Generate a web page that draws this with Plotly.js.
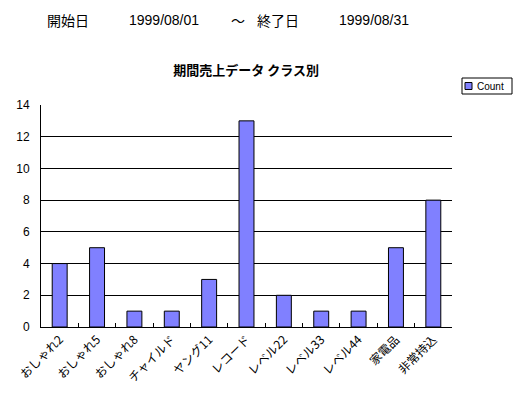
<!DOCTYPE html>
<html><head><meta charset="utf-8">
<script src="https://cdn.plot.ly/plotly-3.0.1.min.js"></script>
<style>html,body{margin:0;padding:0;background:#fff}</style>
</head><body>
<div id="chart" style="width:517px;height:397px"></div>
<script>
const categories = ["おしゃれ2","おしゃれ5","おしゃれ8","チャイルド","ヤング11","レコード","レベル22","レベル33","レベル44","家電品","非常持込"];
const counts = [4,5,1,1,3,13,2,1,1,5,8];
const seriesName = "Count";
const chartTitle = "期間売上データ クラス別";
const headerTexts = ["開始日","1999/08/01","～","終了日","1999/08/31"];
const yTicks = [0,2,4,6,8,10,12,14];

const FONT = "'Noto Sans CJK JP', 'DejaVu Sans', sans-serif";
const LATIN = "'Liberation Sans', Arial, sans-serif";
const W = 517, H = 397, ML = 41, MR = 65, MT = 105, MB = 70;
const headerX = [45,127,229,255,337];
const barColor = "#8080ff";

const trace = {
  type: "bar", x: categories, y: counts, name: seriesName,
  marker: {color: barColor, line: {color: "#000", width: 1}},
  width: 0.4, showlegend: false
};

// pixel -> paper helpers (relative to plot area)
const pw = W - ML - MR, ph = H - MT - MB;
const px = x => (x - ML) / pw;
const py = y => (H - MB - y) / ph;

const annotations = headerTexts.map((t, i) => ({
  text: t, x: px(headerX[i]), y: py(20), xref: "paper", yref: "paper",
  xanchor: "left", yanchor: "middle", showarrow: false,
  font: {size: 14, family: (i === 1 || i === 4) ? LATIN : FONT, color: "#000"}
}));
// legend label
annotations.push({text: seriesName, x: px(475), y: py(86), xref: "paper", yref: "paper",
  xanchor: "left", yanchor: "middle", showarrow: false, font: {size: 10, family: LATIN, color: "#000"}});

const shapes = [
  {type: "rect", xref: "paper", yref: "paper", x0: px(462), x1: px(512), y0: py(78), y1: py(94),
   line: {color: "#000", width: 1}, fillcolor: "#fff"},
  {type: "rect", xref: "paper", yref: "paper", x0: px(465), x1: px(472), y0: py(82.5), y1: py(89.5),
   line: {color: "#000", width: 1}, fillcolor: barColor}
];

const layout = {
  width: W, height: H,
  margin: {l: ML, r: MR, t: MT, b: MB},
  paper_bgcolor: "#fff", plot_bgcolor: "#fff",
  font: {family: FONT, color: "#000", size: 11},
  showlegend: false,
  title: {text: "<b>" + chartTitle + "</b>", x: 258 / W, xref: "paper", xanchor: "center", y: 1 - 70 / H, yanchor: "middle", font: {size: 13, family: FONT}},
  xaxis: {type: "category", tickangle: -45, ticks: "inside", ticklen: 4, tickcolor: "#000", tickson: "boundaries",
          showline: true, linecolor: "#000", linewidth: 1, showgrid: false, tickfont: {size: 12, family: FONT}, fixedrange: true},
  yaxis: {range: [0, 14], tickvals: yTicks, showline: true, linecolor: "#000", linewidth: 1,
          showgrid: true, gridcolor: "#000", gridwidth: 1, zeroline: false, ticks: "", ticklabelstandoff: 8,
          tickfont: {size: 12, family: LATIN}, fixedrange: true},
  annotations: annotations,
  shapes: shapes,
  bargap: 0.6
};

Plotly.newPlot("chart", [trace], layout, {displayModeBar: false, staticPlot: true});
</script>
</body></html>
